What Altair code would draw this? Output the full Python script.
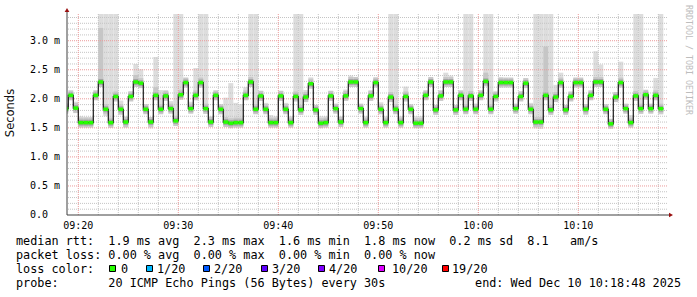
import altair as alt
import pandas as pd

# ---------------- data ----------------
first_step_start = "09:18:30"   # start of first 30 s step (partially visible)
step_minutes = 0.5
window_end = "10:18:48"
window_minutes = 60

median_ms = [
    1.83, 2.06, 1.84, 1.59, 1.59, 1.59, 2.06, 2.29, 1.82, 1.59,
    2.04, 1.82, 1.60, 2.04, 2.29, 2.27, 1.82, 1.60, 2.06, 1.82,
    2.05, 1.83, 1.62, 2.07, 2.28, 1.83, 2.06, 2.28, 1.83, 1.60,
    2.06, 1.82, 1.60, 1.58, 1.59, 1.59, 2.06, 2.29, 1.82, 2.05,
    1.82, 1.59, 1.59, 2.05, 1.82, 1.59, 2.04, 1.81, 2.03, 2.26,
    1.81, 1.58, 1.59, 2.05, 1.83, 1.60, 2.05, 2.29, 2.29, 1.83,
    1.59, 2.05, 2.28, 1.82, 1.59, 2.03, 1.82, 1.59, 2.04, 1.82,
    1.58, 1.58, 2.06, 2.29, 1.81, 2.05, 2.29, 2.29, 1.81, 2.06,
    1.82, 2.05, 1.82, 2.06, 2.30, 1.82, 2.04, 2.28, 2.28, 2.28,
    1.83, 2.04, 2.27, 1.82, 1.60, 1.60, 2.06, 1.81, 2.03, 2.28,
    1.81, 2.04, 2.28, 2.28, 1.82, 2.06, 2.29, 2.29, 1.82, 1.57,
    2.03, 2.28, 1.83, 1.59, 2.05, 1.83, 2.07, 1.83, 2.06, 1.83,
]

smoke_lo_ms = [
    1.76, 1.99, 1.76, 1.52, 1.53, 1.53, 1.98, 2.20, 1.70, 1.50,
    1.97, 1.72, 1.50, 1.98, 2.21, 2.20, 1.75, 1.49, 1.98, 1.75,
    1.98, 1.77, 1.53, 1.99, 2.22, 1.76, 1.99, 2.20, 1.74, 1.54,
    1.99, 1.75, 1.53, 1.53, 1.53, 1.53, 1.99, 2.21, 1.74, 1.98,
    1.76, 1.52, 1.52, 1.98, 1.75, 1.52, 1.97, 1.73, 1.97, 2.20,
    1.75, 1.50, 1.52, 1.98, 1.76, 1.53, 1.98, 2.22, 2.21, 1.76,
    1.52, 1.98, 2.21, 1.75, 1.52, 1.96, 1.74, 1.52, 1.97, 1.75,
    1.51, 1.51, 1.99, 2.22, 1.74, 1.98, 2.22, 2.22, 1.73, 1.99,
    1.74, 1.97, 1.75, 1.99, 2.23, 1.74, 1.96, 2.21, 2.22, 2.21,
    1.75, 1.97, 2.20, 1.74, 1.49, 1.48, 1.99, 1.73, 1.96, 2.20,
    1.74, 1.97, 2.21, 2.21, 1.72, 1.98, 2.22, 2.22, 1.74, 1.50,
    1.96, 2.21, 1.76, 1.52, 1.98, 1.74, 2.00, 1.76, 1.99, 1.73,
]

# 3.50 = beyond the top of the plot (clipped)
smoke_hi_ms = [
    1.92, 2.12, 1.95, 1.70, 1.69, 1.69, 2.11, 3.50, 3.50, 3.50,
    3.50, 1.97, 1.70, 2.13, 2.60, 2.51, 1.90, 1.68, 2.72, 2.15,
    2.15, 1.96, 3.50, 3.50, 2.36, 1.95, 2.53, 3.50, 3.50, 1.70,
    2.12, 1.90, 2.02, 2.27, 1.93, 1.91, 2.20, 3.50, 3.50, 2.14,
    1.93, 1.72, 1.70, 2.14, 1.93, 1.70, 3.50, 3.50, 2.15, 2.37,
    1.88, 1.70, 1.70, 2.14, 1.91, 1.70, 2.16, 2.40, 2.37, 1.90,
    1.70, 2.15, 2.37, 1.94, 1.70, 3.50, 3.50, 1.70, 2.21, 1.87,
    1.70, 1.70, 2.13, 2.36, 1.88, 2.15, 2.45, 2.40, 1.86, 2.13,
    3.50, 3.50, 1.92, 2.12, 3.50, 3.50, 2.12, 2.37, 2.35, 2.35,
    1.91, 2.13, 2.35, 1.93, 3.50, 3.50, 3.50, 3.50, 2.24, 2.45,
    1.86, 2.10, 2.36, 2.33, 1.91, 2.10, 2.82, 2.59, 1.86, 1.65,
    2.10, 2.64, 1.86, 1.72, 3.50, 3.50, 2.12, 1.90, 2.36, 3.50,
]

dense_steps = [7, 14, 18, 84, 96]
dense_top_ms = [3.22, 2.41, 2.20, 2.45, 2.90]

y_tick_values = [0.0, 0.5, 1.0, 1.5, 2.0, 2.5, 3.0]
y_tick_labels = ["0.0", "0.5 m", "1.0 m", "1.5 m", "2.0 m", "2.5 m", "3.0 m"]
x_tick_labels = ["09:20", "09:30", "09:40", "09:50", "10:00", "10:10"]

y_title = "Seconds"
side_credit = "RRDTOOL / TOBI OETIKER"
legend_row1 = "median rtt:  1.9 ms avg  2.3 ms max  1.6 ms min  1.8 ms now  0.2 ms sd  8.1   am/s"
legend_row2 = "packet loss: 0.00 % avg  0.00 % max  0.00 % min  0.00 % now"
legend_row3 = "loss color:"
legend_row4 = "probe:       20 ICMP Echo Pings (56 Bytes) every 30s"
legend_end = "end: Wed Dec 10 10:18:48 2025"
loss_labels = ["0", "1/20", "2/20", "3/20", "4/20", "10/20", "19/20"]
loss_colors = ["#26ff00", "#00b8ff", "#0059ff", "#5e00ff", "#7e00ff", "#dd00ff", "#ff0000"]

# ---------------- layout / style ----------------
PAD_L, PAD_T, W, H = 67, 14, 600, 201
loss_box_x = [109, 146, 203, 261, 318, 378, 442]      # page px
loss_label_x = [121, 157, 214, 272, 329, 392, 452]    # page px
MONO = "DejaVu Sans Mono"
NB = "\u00a0"


def mins(hms):
    h, m, s = (int(p) for p in hms.split(":"))
    return (h - 9) * 60 + m + s / 60.0


def nb(s):
    return s.replace(" ", NB)


x_end = mins(window_end) + 0.07
x_start = x_end - window_minutes
t_first = mins(first_step_start)
n = len(median_ms)
t0 = [t_first + i * step_minutes for i in range(n)]
t1 = [t + step_minutes for t in t0]

steps = pd.DataFrame({"t0": t0, "t1": t1, "med": median_ms,
                      "lo": smoke_lo_ms, "hi": smoke_hi_ms})
dense = pd.DataFrame({"t0": [t0[i] for i in dense_steps],
                      "t1": [t1[i] for i in dense_steps],
                      "lo": [median_ms[i] for i in dense_steps],
                      "hi": dense_top_ms})
line_df = pd.DataFrame({"t": t0 + [t1[-1]], "med": median_ms + [median_ms[-1]]})

xs = alt.Scale(domain=[x_start, x_end], nice=False, zero=False)
ys = alt.Scale(domain=[0, 3.46], nice=False, zero=False)


def X(f):
    return alt.X(f, type="quantitative", scale=xs, axis=None)


def Y(f):
    return alt.Y(f, type="quantitative", scale=ys, axis=None)


# grid positions
x_major = [mins(l + ":00") for l in x_tick_labels]
x_minor = [v for v in range(20, 79, 2) if v % 10 != 0]
y_minor = [round(k / 10, 1) for k in range(1, 35) if k % 5 != 0]
y_major = [v for v in y_tick_values if v > 0]

smoke = alt.Chart(steps).mark_rect(color="#dddddd", clip=True).encode(
    x=X("t0"), x2="t1", y=Y("lo"), y2="hi")
dense_layer = alt.Chart(dense).mark_rect(color="#c6c6c6", clip=True).encode(
    x=X("t0"), x2="t1", y=Y("lo"), y2="hi")
inner1 = alt.Chart(steps).mark_rule(color="#c8c8c8", strokeWidth=10, clip=True).encode(
    x=X("t0"), x2="t1", y=Y("med"))
inner2 = alt.Chart(steps).mark_rule(color="#a4a4a4", strokeWidth=6, clip=True).encode(
    x=X("t0"), x2="t1", y=Y("med"))

gx_minor = alt.Chart(pd.DataFrame({"v": x_minor})).mark_rule(
    color="#c4c4c4", strokeWidth=1, strokeDash=[1, 1]).encode(x=X("v"))
gy_minor = alt.Chart(pd.DataFrame({"v": y_minor})).mark_rule(
    color="#c4c4c4", strokeWidth=1, strokeDash=[1, 1]).encode(y=Y("v"))
gx_major = alt.Chart(pd.DataFrame({"v": x_major})).mark_rule(
    color="#eb9a9a", strokeWidth=1, strokeDash=[1, 1]).encode(x=X("v"))
gy_major = alt.Chart(pd.DataFrame({"v": y_major})).mark_rule(
    color="#eb9a9a", strokeWidth=1, strokeDash=[1, 1]).encode(y=Y("v"))

med_line = alt.Chart(line_df).mark_line(
    interpolate="step-after", color="#1a1a1a", strokeWidth=1.2, clip=True).encode(
    x=X("t"), y=Y("med"))
loss_mark = alt.Chart(steps).mark_rule(
    color=loss_colors[0], strokeWidth=3.5, clip=True).encode(
    x=X("t0"), x2="t1", y=Y("med"))

one = pd.DataFrame({"a": [0]})
axis_y = alt.Chart(one).mark_rule(color="#404040", strokeWidth=1).encode(
    x=alt.value(0), y=alt.value(-3), y2=alt.value(H))
axis_x = alt.Chart(one).mark_rule(color="#404040", strokeWidth=1).encode(
    x=alt.value(0), x2=alt.value(W + 3), y=alt.value(H))
arrow_up = alt.Chart(one).mark_point(shape="triangle-up", filled=True, size=22,
                                     color="#9a1010", opacity=1).encode(
    x=alt.value(0), y=alt.value(-4))
arrow_right = alt.Chart(one).mark_point(shape="triangle-right", filled=True, size=22,
                                        color="#9a1010", opacity=1).encode(
    x=alt.value(W + 4), y=alt.value(H))

ylab = alt.Chart(pd.DataFrame({"v": y_tick_values, "label": y_tick_labels})).mark_text(
    font=MONO, fontSize=10, align="left", baseline="middle", color="#000000").encode(
    y=Y("v"), x=alt.value(30 - PAD_L), text="label:N")
xlab = alt.Chart(pd.DataFrame({"v": x_major, "label": x_tick_labels})).mark_text(
    font=MONO, fontSize=10, align="center", baseline="alphabetic", color="#000000").encode(
    x=X("v"), y=alt.value(229 - PAD_T), text="label:N")

title_y = alt.Chart(pd.DataFrame({"label": [y_title]})).mark_text(
    font="DejaVu Sans", fontSize=11.5, angle=270, align="center", baseline="middle",
    color="#111111").encode(x=alt.value(11 - PAD_L), y=alt.value(113 - PAD_T), text="label:N")
credit = alt.Chart(pd.DataFrame({"label": [side_credit]})).mark_text(
    font=MONO, fontSize=8.3, angle=90, align="center", baseline="middle",
    color="#bdbdbd").encode(x=alt.value(688 - PAD_L), y=alt.value(60 - PAD_T), text="label:N")


def row(txt, x_page, base_page, align="left"):
    return alt.Chart(pd.DataFrame({"label": [nb(txt)]})).mark_text(
        font=MONO, fontSize=11.8, align=align, baseline="alphabetic", color="#000000").encode(
        x=alt.value(x_page - PAD_L), y=alt.value(base_page - PAD_T), text="label:N")


rows = [
    row(legend_row1, 16, 244.5),
    row(legend_row2, 16, 258.5),
    row(legend_row3, 16, 272.5),
    row(legend_row4, 16, 286.5),
    row(legend_end, 681, 286.5, align="right"),
]

loss_df = pd.DataFrame({"label": loss_labels, "color": loss_colors,
                        "bx": [x + 3.5 - PAD_L for x in loss_box_x],
                        "lx": [x - PAD_L for x in loss_label_x]})
loss_boxes = alt.Chart(loss_df).mark_square(size=36, filled=True, opacity=1,
                                            stroke="#000000", strokeWidth=1).encode(
    x=alt.X("bx:Q", scale=None, axis=None), y=alt.value(268.5 - PAD_T),
    color=alt.Color("color:N", scale=None, legend=None))
loss_text = alt.Chart(loss_df).mark_text(
    font=MONO, fontSize=11.8, align="left", baseline="alphabetic", color="#000000").encode(
    x=alt.X("lx:Q", scale=None, axis=None), y=alt.value(272.5 - PAD_T), text="label:N")

chart = alt.layer(
    smoke, dense_layer, inner1, inner2,
    gx_minor, gy_minor, gx_major, gy_major,
    med_line, loss_mark,
    axis_y, axis_x, arrow_up, arrow_right,
    ylab, xlab, title_y, credit,
    *rows, loss_boxes, loss_text,
).properties(
    width=W, height=H,
    padding={"left": PAD_L, "top": PAD_T, "right": 697 - PAD_L - W, "bottom": 297 - PAD_T - H},
    autosize=alt.AutoSizeParams(type="none"),
    background="#ffffff",
).configure_view(stroke=None)

chart.save("out.html", embed_options={"renderer": "svg", "actions": False})
